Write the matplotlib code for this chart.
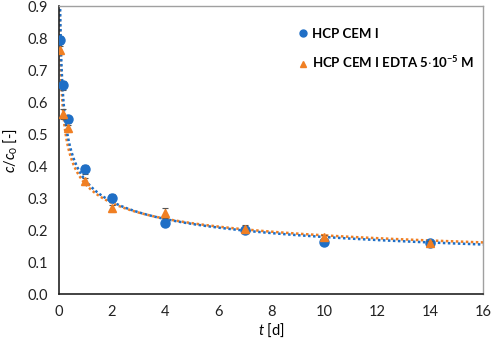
import numpy as np
import matplotlib
matplotlib.use("Agg")
import matplotlib.pyplot as plt
from matplotlib.lines import Line2D

plt.rcParams['font.family'] = ['Lato', 'DejaVu Sans']
plt.rcParams['mathtext.fontset'] = 'custom'
plt.rcParams['mathtext.it'] = 'Lato:italic'
plt.rcParams['mathtext.rm'] = 'Lato'
plt.rcParams['mathtext.bf'] = 'Lato:bold'

t = [0.04, 0.17, 0.33, 1, 2, 4, 7, 10, 14]
blue_vals = [0.794, 0.652, 0.546, 0.390, 0.300, 0.222, 0.200, 0.163, 0.160]
blue_err = [0.012, 0.015, 0.012, 0.015, 0.012, 0.008, 0.008, 0.008, 0.006]
orange_vals = [0.763, 0.563, 0.518, 0.352, 0.268, 0.253, 0.205, 0.177, 0.160]
orange_err = [0.012, 0.015, 0.012, 0.012, 0.012, 0.015, 0.010, 0.008, 0.006]

blue_c = '#1f6fc6'
orange_c = '#f07f23'

fig = plt.figure(figsize=(4.91, 3.40), dpi=100)
ax = fig.add_axes([0.120, 0.135, 0.864, 0.847])

def power_fit(x, y):
    b, lna = np.polyfit(np.log(x), np.log(y), 1)
    return np.exp(lna), b

tt = np.linspace(0.005, 16, 2000)
ab, bb = power_fit(np.array(t), np.array(blue_vals))
ao, bo = power_fit(np.array(t), np.array(orange_vals))
ax.plot(tt, ao * tt ** bo, color=orange_c, lw=1.8, ls=(0, (1, 1)), zorder=2)
ax.plot(tt, ab * tt ** bb, color=blue_c, lw=1.8, ls=(0, (1, 1)), zorder=2)

ax.errorbar(t, blue_vals, yerr=blue_err, fmt='o', color=blue_c, ms=6.5,
            ecolor='#555555', elinewidth=0.8, capsize=2.5, capthick=0.8,
            zorder=3)
ax.errorbar(t, orange_vals, yerr=orange_err, fmt='^', color=orange_c, ms=6,
            ecolor='#555555', elinewidth=0.8, capsize=2.5, capthick=0.8,
            zorder=4)

ax.set_xlim(0, 16)
ax.set_ylim(0, 0.9)
ax.set_xticks(np.arange(0, 17, 2))
ax.set_yticks(np.arange(0, 0.91, 0.1))
ax.set_yticklabels([f'{v:.1f}' for v in np.arange(0, 0.91, 0.1)])
ax.tick_params(length=0, labelsize=10.5, pad=8, colors='#222222')
for s in ['left', 'bottom']:
    ax.spines[s].set_color('#222222')
    ax.spines[s].set_linewidth(1.2)
for s in ['top', 'right']:
    ax.spines[s].set_color('#a0a0a0')
    ax.spines[s].set_linewidth(1.0)

ax.set_xlabel('$\\mathit{t}$ [d]', fontsize=10.5, labelpad=2)
ax.set_ylabel('$\\mathit{c}$/$\\mathit{c}_0$ [-]', fontsize=10.5, labelpad=6)

handles = [
    Line2D([], [], ls='none', marker='o', color=blue_c, ms=5),
    Line2D([], [], ls='none', marker='^', color=orange_c, ms=5),
]
labels = ['HCP CEM I', 'HCP CEM I EDTA 5$\\cdot$10$^{\\mathbf{-5}}$ M']
leg = ax.legend(handles, labels, loc='upper left', bbox_to_anchor=(0.528, 0.965),
                frameon=False, prop={'weight': 'bold', 'size': 9.5},
                handletextpad=0.1, labelspacing=1.1, handlelength=1.2)

fig.savefig('out.png', dpi=100)
